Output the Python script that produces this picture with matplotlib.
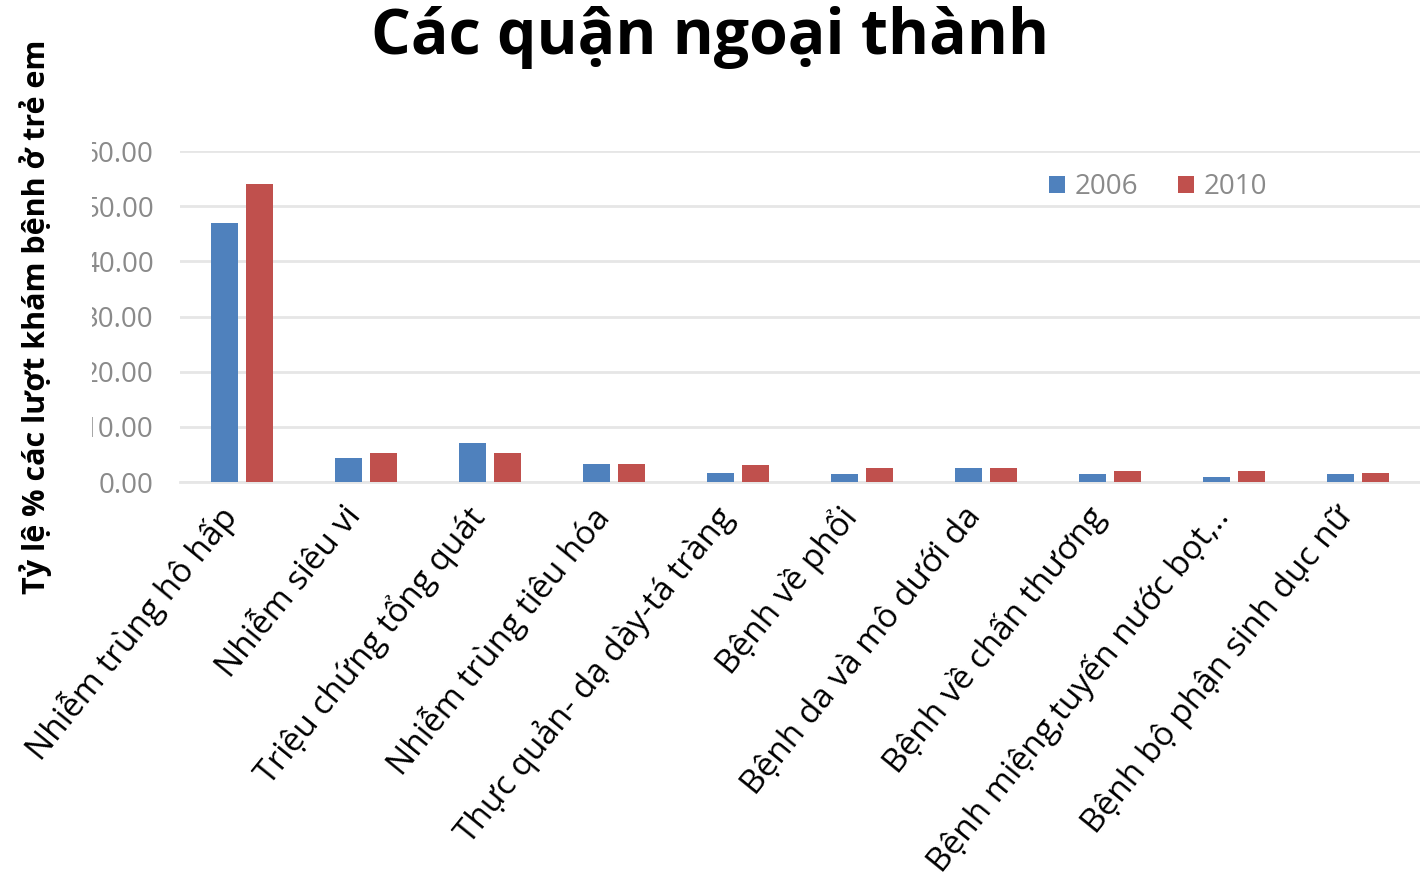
import matplotlib
matplotlib.use("Agg")
import matplotlib.pyplot as plt
import numpy as np
from matplotlib.transforms import Bbox, TransformedBbox, ScaledTranslation

plt.rcParams['font.family'] = ['Open Sans', 'DejaVu Sans']

# Data
categories = [
    "Nhiễm trùng hô hấp",
    "Nhiễm siêu vi",
    "Triệu chứng tổng quát",
    "Nhiễm trùng tiêu hóa",
    "Thực quản- dạ dày-tá tràng",
    "Bệnh về phổi",
    "Bệnh da và mô dưới da",
    "Bệnh về chấn thương",
    "Bệnh miệng,tuyến nước bọt,..",
    "Bệnh bộ phận sinh dục nữ",
]
values_2006 = [47.0, 4.4, 7.0, 3.3, 1.6, 1.45, 2.5, 1.5, 1.0, 1.5]
values_2010 = [54.1, 5.3, 5.3, 3.3, 3.0, 2.5, 2.5, 1.95, 1.95, 1.6]
yticks = [0, 10, 20, 30, 40, 50, 60]

blue = '#4F81BD'
red = '#C0504D'
grey = '#8a8a8a'

fig = plt.figure(figsize=(14.2, 8.91), dpi=100)
ax = fig.add_axes([0.1268, 0.459, 0.8732, 0.3715])

x = np.arange(len(categories))
w = 0.22
off = 0.14
ax.bar(x - off, values_2006, w, color=blue, label='2006', zorder=3)
ax.bar(x + off, values_2010, w, color=red, label='2010', zorder=3)

ax.set_xlim(-0.5, len(categories) - 0.5)
ax.set_ylim(0, 60)
ax.set_yticks(yticks)
ax.set_yticklabels([f"{v:.2f}" for v in yticks], fontsize=20, color=grey)
ax.tick_params(axis='y', length=0, pad=19)
ax.grid(axis='y', color='#e6e6e6', linewidth=2, zorder=0)
for s in ['top', 'right', 'left']:
    ax.spines[s].set_visible(False)
ax.spines['bottom'].set_color('#e6e6e6')
ax.spines['bottom'].set_linewidth(2)

ax.set_xticks(x)
ax.set_xticklabels(categories, rotation=51, ha='right', va='center',
                   rotation_mode='anchor', fontsize=24, color='black')
ax.tick_params(axis='x', length=0, pad=21)
shift = ScaledTranslation(-8 / 72, 0, fig.dpi_scale_trans)
for lab in ax.get_xticklabels():
    lab.set_transform(lab.get_transform() + shift)

# the left part of the y tick labels is cut off in the original
clip = TransformedBbox(Bbox([[0.065, 0.0], [1.0, 1.0]]), fig.transFigure)
for lab in ax.get_yticklabels():
    lab.set_clip_box(clip)
    lab.set_clip_on(True)

leg = ax.legend(loc='center right', bbox_to_anchor=(0.877, 0.89), ncol=2,
                frameon=False, fontsize=20, handlelength=0.6, handleheight=0.6,
                columnspacing=1.4, handletextpad=0.35, borderaxespad=0,
                borderpad=0)
for t in leg.get_texts():
    t.set_color(grey)

fig.text(0.5, 0.958, "Các quận ngoại thành", ha='center', va='center',
         fontsize=45, fontweight='bold')
fig.text(0.025, 0.644, "Tỷ lệ % các lượt khám bệnh ở trẻ em", rotation=90,
         ha='center', va='center', fontsize=22, fontweight='bold')

fig.savefig("out.png", dpi=100)
